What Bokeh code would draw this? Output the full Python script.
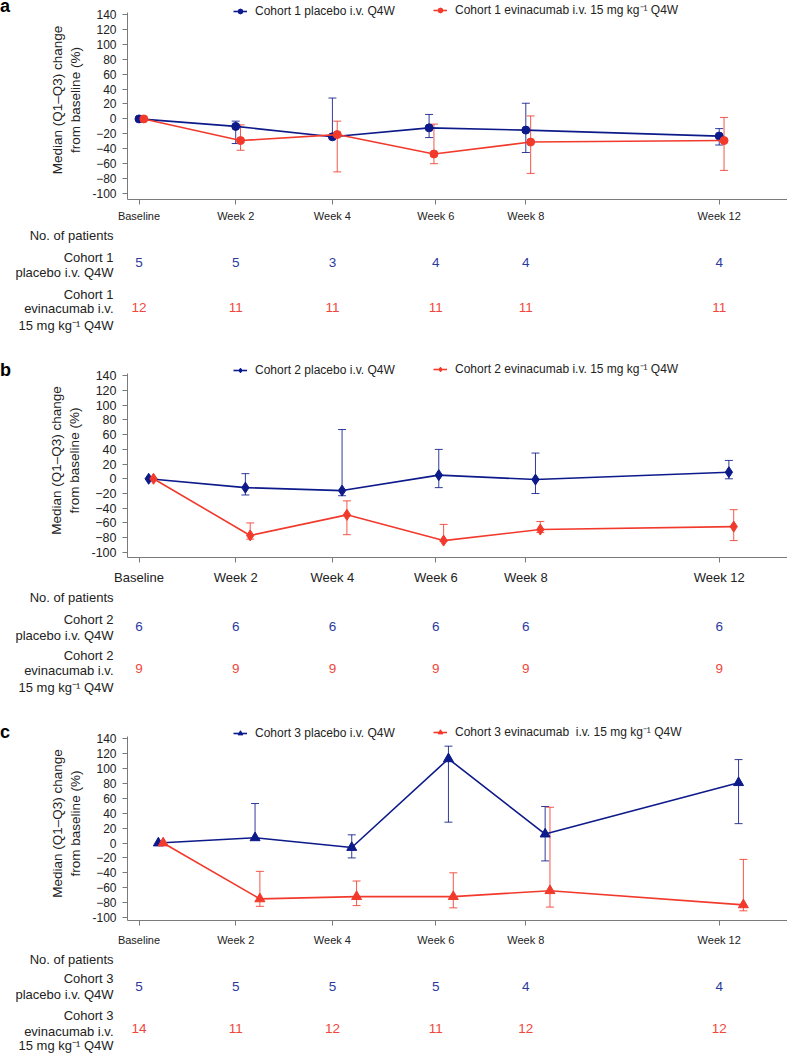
from bokeh.plotting import figure
from bokeh.models import (Range1d, FixedTicker, Whisker, TeeHead, ColumnDataSource,
                          Label, LabelSet, Legend, LegendItem, Div)
from bokeh.layouts import column, row
from bokeh.core.properties import value
from bokeh.embed import file_html
from bokeh.resources import INLINE

# ---------------- data ----------------
weeks = [0, 2, 4, 6, 8, 12]
tick_labels = ["Baseline", "Week 2", "Week 4", "Week 6", "Week 8", "Week 12"]

# Cohort 1
c1_pbo_med = [0, -10, -24, -12, -15, -23]
c1_pbo_q1 = [None, -33, -25, -25, -45, -35]
c1_pbo_q3 = [None, -3, 28, 6, 21, -13]
c1_evi_med = [0, -29, -21, -47, -31, -29]
c1_evi_q1 = [None, -42, -71, -60, -73, -69]
c1_evi_q3 = [None, -8, -3, -7, 4, 2]
n1_pbo = [5, 5, 3, 4, 4, 4]
n1_evi = [12, 11, 11, 11, 11, 11]

# Cohort 2
c2_pbo_med = [0, -12, -16, 5, -1, 9]
c2_pbo_q1 = [None, -22, -23, -12, -20, 0]
c2_pbo_q3 = [None, 7, 67, 40, 35, 25]
c2_evi_med = [0, -77, -49, -84, -69, -65]
c2_evi_q1 = [None, -82, -76, -85, -73, -84]
c2_evi_q3 = [None, -60, -30, -62, -58, -42]
n2_pbo = [6, 6, 6, 6, 6, 6]
n2_evi = [9, 9, 9, 9, 9, 9]

# Cohort 3
c3_pbo_med = [0, 7, -6, 113, 12, 81]
c3_pbo_q1 = [None, 5, -20, 28, -24, 26]
c3_pbo_q3 = [None, 53, 11, 130, 49, 112]
c3_evi_med = [0, -75, -72, -72, -64, -83]
c3_evi_q1 = [None, -85, -84, -87, -86, -91]
c3_evi_q3 = [None, -38, -51, -40, 48, -22]
n3_pbo = [5, 5, 5, 5, 4, 4]
n3_evi = [14, 11, 12, 11, 12, 12]

# ---------------- style / layout ----------------
BLUE = "#0d1a8a"
RED = "#f23a2c"
NUM_BLUE = "#2b3a9e"
NUM_RED = "#f0473d"
FONT = "Liberation Sans"
TXT = "#222222"
AXIS = "#7a7a7a"

PAGE_W = 787
LETTER_W = 12
MAIN_W = PAGE_W - LETTER_W
FRAME_LEFT = 115            # inside the main figure -> frame starts at page x 127
PX_PER_WEEK = 48.35
X_START = -0.238
X_END = X_START + (MAIN_W - FRAME_LEFT) / PX_PER_WEEK
TABLE_X_START = X_START - (LETTER_W + FRAME_LEFT) / PX_PER_WEEK
TICK_SHIFT = {6: 0.14}      # "Week 6" label sits slightly right of week 6
Y_AXIS_TOP = 143


def bare(width, height, x_range):
    f = figure(width=width, height=height, output_backend="svg", toolbar_location=None,
               x_range=x_range, y_range=Range1d(0, height), x_axis_type=None, y_axis_type=None,
               min_border=0)
    f.grid.visible = False
    f.outline_line_color = None
    return f


def letter_div(letter, height, line_h):
    html = (f'<div style="font-family: \'{FONT}\', Arial, sans-serif; font-weight: bold; '
            f'font-size: 18px; line-height: {line_h}px; margin: 0; padding: 0; color: #000;">'
            f'{letter}</div>')
    return Div(text=html, width=LETTER_W, height=height, margin=(0, 0, 0, 0))


def main_fig(k, marker, msize, pbo, evi, dodge, y_bottom, y_top, frame_h, bottom,
             legend_y, xtick_size, xtick_standoff, ytick_size):
    p = figure(width=MAIN_W, height=frame_h + bottom, output_backend="svg", toolbar_location=None,
               x_range=Range1d(X_START, X_END), y_range=Range1d(y_bottom, y_top),
               min_border_left=FRAME_LEFT, min_border_right=0,
               min_border_top=0, min_border_bottom=bottom)
    p.grid.visible = False
    p.outline_line_color = None

    yt = list(range(-100, 141, 20))
    p.yaxis.ticker = FixedTicker(ticks=yt)
    p.yaxis.bounds = (y_bottom, Y_AXIS_TOP)
    p.yaxis.major_label_overrides = {v: (str(v).replace("-", "\u2212") if v != -100 else "-100") for v in yt}
    p.yaxis.axis_label = "Median (Q1\u2013Q3) change\nfrom baseline (%)"
    p.yaxis.axis_label_text_font = FONT
    p.yaxis.axis_label_text_font_size = "13.5px"
    p.yaxis.axis_label_text_font_style = "normal"
    p.yaxis.axis_label_text_color = TXT
    p.yaxis.axis_label_standoff = 6
    p.yaxis.major_label_text_font = FONT
    p.yaxis.major_label_text_font_size = ytick_size
    p.yaxis.major_label_text_color = TXT
    p.yaxis.major_label_standoff = 6

    tick_pos = [w + TICK_SHIFT.get(w, 0) for w in weeks]
    p.xaxis.ticker = FixedTicker(ticks=tick_pos)
    p.xaxis.major_label_overrides = {t: lab for t, lab in zip(tick_pos, tick_labels)}
    p.xaxis.major_label_text_font = FONT
    p.xaxis.major_label_text_font_size = xtick_size
    p.xaxis.major_label_text_color = TXT
    p.xaxis.major_label_standoff = xtick_standoff
    for ax in (p.xaxis, p.yaxis):
        ax.axis_line_color = AXIS
        ax.major_tick_line_color = AXIS
        ax.minor_tick_line_color = None
        ax.major_tick_in = 0
        ax.major_tick_out = 5

    renderers = []
    for (med, q1, q3), off, col in ((pbo, dodge[0], BLUE), (evi, dodge[1], RED)):
        xs = [w + off for w in weeks]
        idx = [i for i in range(len(weeks)) if q1[i] is not None]
        wsrc = ColumnDataSource(dict(x=[xs[i] for i in idx], lo=[q1[i] for i in idx],
                                     hi=[q3[i] for i in idx]))
        wh = Whisker(source=wsrc, base="x", lower="lo", upper="hi", dimension="height",
                     line_color=col, line_width=1, line_alpha=0.85,
                     lower_head=TeeHead(size=8, line_color=col, line_width=1, line_alpha=0.85),
                     upper_head=TeeHead(size=8, line_color=col, line_width=1, line_alpha=0.85))
        p.add_layout(wh)
        ln = p.line(xs, med, line_color=col, line_width=1.6)
        sc = p.scatter(xs, med, marker=marker, size=msize, fill_color=col, line_color=col)
        renderers.append([ln, sc])

    leg_labels = [f"Cohort {k} placebo i.v. Q4W",
                  f"Cohort {k} evinacumab {' ' if k == 3 else ''}i.v. 15 mg kg\u207b\u00b9 Q4W"]
    for rs, lab, lx in zip(renderers, leg_labels, (106, 306)):
        lg = Legend(items=[LegendItem(label=lab, renderers=rs)], location=(lx, legend_y),
                    orientation="horizontal", padding=0, margin=0, spacing=0,
                    glyph_width=14, glyph_height=12, label_standoff=8,
                    label_text_font=FONT, label_text_font_size="12px", label_text_color=TXT,
                    label_height=14, border_line_color=None, background_fill_alpha=0)
        p.add_layout(lg)
    return p


def table_fig(k, n_pbo, n_evi, height, rows):
    # rows: y (from table top) of: header, pbo1, pbo2, pbo_num, evi1, evi2, evi3, evi_num
    t = bare(PAGE_W, height, Range1d(TABLE_X_START, TABLE_X_START + PAGE_W / PX_PER_WEEK))
    texts = ["No. of patients", f"Cohort {k}", "placebo i.v. Q4W", None,
             f"Cohort {k}", "evinacumab i.v.", "15 mg kg\u207b\u00b9 Q4W", None]
    for txt, yy in zip(texts, rows):
        if txt is None:
            continue
        t.add_layout(Label(x=LETTER_W + FRAME_LEFT - 14, y=height - yy, x_units="screen",
                           y_units="screen", text=txt, text_font=FONT, text_font_size="13px",
                           text_color=TXT, text_align="right", text_baseline="middle"))
    tick_pos = [w + TICK_SHIFT.get(w, 0) for w in weeks]
    for nums, yy, col in ((n_pbo, rows[3], NUM_BLUE), (n_evi, rows[7], NUM_RED)):
        src = ColumnDataSource(dict(x=tick_pos, y=[height - yy] * len(nums),
                                    t=[str(n) for n in nums]))
        t.add_layout(LabelSet(source=src, x="x", y="y", text="t", x_units="data", y_units="screen",
                              text_font=value(FONT), text_font_size=value("13.5px"),
                              text_color=value(col), text_align=value("center"),
                              text_baseline=value("middle")))
    return t


# panel a: page y 0..224 (frame 0..199), table 224..363
ma = main_fig(1, "circle", 8, (c1_pbo_med, c1_pbo_q1, c1_pbo_q3),
              (c1_evi_med, c1_evi_q1, c1_evi_q3), (0.0, 0.1),
              -108, 158.7, 199, 25, 181, "11px", 5, "12px")
ta = table_fig(1, n1_pbo, n1_evi, 139, [11, 32.5, 47.7, 38, 69.5, 84.3, 101, 83])
# panel b: page y 363..587 (frame 363..560), table 587..726
mb = main_fig(2, "diamond", 11, (c2_pbo_med, c2_pbo_q1, c2_pbo_q3),
              (c2_evi_med, c2_evi_q1, c2_evi_q3), (0.2, 0.3),
              -107, 156.8, 197, 27, 180, "13px", 7, "12.5px")
tb = table_fig(2, n2_pbo, n2_evi, 139, [9.7, 32.3, 48, 38.7, 68, 83, 99.7, 81])
# panel c: page y 726..948 (frame 726..921), table 948..1054
mc = main_fig(3, "triangle", 10, (c3_pbo_med, c3_pbo_q1, c3_pbo_q3),
              (c3_evi_med, c3_evi_q1, c3_evi_q3), (0.4, 0.5),
              -104, 156.4, 195, 27, 180, "11px", 8, "12px")
tc = table_fig(3, n3_pbo, n3_evi, 106, [11, 30, 46, 37.7, 67, 82.7, 97.3, 80])

layout = column(
    row(letter_div("a", 224, 11), ma, spacing=0), ta,
    row(letter_div("b", 224, 14), mb, spacing=0), tb,
    row(letter_div("c", 222, 12), mc, spacing=0), tc,
    spacing=0)
open("out.html", "w").write(file_html(layout, INLINE))
